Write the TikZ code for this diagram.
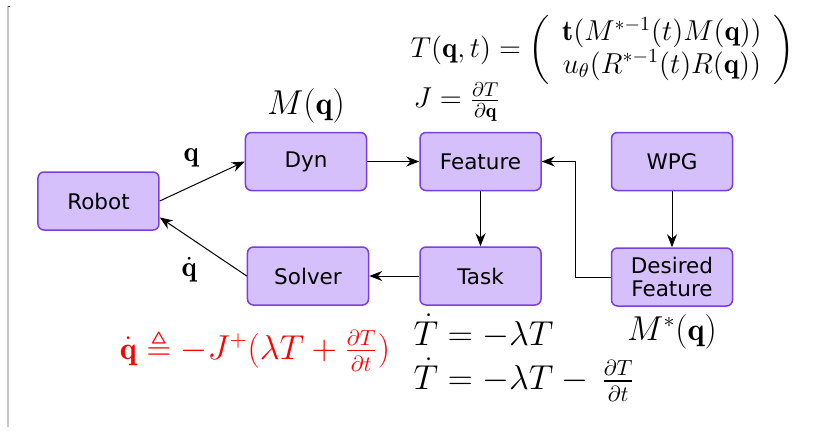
\documentclass[tikz,border=0pt]{standalone}
\usepackage{amsmath}
\usepackage{amssymb}
\usepackage{fontspec}
\setsansfont{DejaVu Sans}
\usepackage{tikz}
\usepackage{xcolor}
\usetikzlibrary{arrows.meta, positioning}
\definecolor{blkfill}{HTML}{D6C0FC}
\definecolor{blkedge}{HTML}{7A3FE0}
\definecolor{frameline}{HTML}{C8C8C8}

\begin{document}
\begin{tikzpicture}[
  blk/.style={draw=blkedge, fill=blkfill, line width=0.75pt, rounded corners=3pt,
              minimum width=60.5pt, minimum height=29pt, align=center,
              font=\sffamily\fontsize{10.75}{11.5}\selectfont},
  ar/.style={-{Stealth[length=6.5pt, width=5pt]}, line width=0.5pt},
  eq/.style={inner sep=0pt, font=\fontsize{16}{22}\selectfont},
  sm/.style={inner sep=0pt, font=\Large}
]
\node[blk] (robot) {Robot};
\node[blk, right=42.5pt of robot, yshift=19.75pt] (dyn) {Dyn};
\node[blk, right=43.5pt of robot, yshift=-37.5pt] (solver) {Solver};
\node[blk, right=26pt of dyn] (feat) {Feature};
\node[blk, below=27.5pt of feat] (task) {Task};
\node[blk, right=34.5pt of feat] (wpg) {WPG};
\node[blk, below=28pt of wpg] (des) {Desired\\Feature};

\draw[ar] (robot.east) -- (dyn.west)
  node[midway, above=7pt, xshift=-5.5pt, sm] (qlab) {$\mathbf{q}$};
\draw[ar] (solver.west) -- (robot.-15)
  node[midway, below=5pt, xshift=-7pt, sm] (qdlab) {$\dot{\mathbf{q}}$};
\draw[ar] (dyn) -- (feat);
\draw[ar] (feat) -- (task);
\draw[ar] (task.west) -- (solver.east);
\draw[ar] (wpg) -- (des);
\draw[ar] (des.west) -- ++(-17.5pt,0) |- (feat.east);

\node[eq, above=4pt of dyn] (mq) {$M(\mathbf{q})$};
\node[eq, below=3.5pt of des] (mstar) {$M^{*}(\mathbf{q})$};
\node[eq, text=red, below=12pt of solver, xshift=-26.5pt] (law)
  {$\dot{\mathbf{q}}\triangleq -J^{+}(\lambda T+\frac{\partial T}{\partial t})$};
\node[eq, align=left, below=4pt of task.south west, anchor=north west, xshift=-3pt] (tdot)
  {$\dot{T}=-\lambda T$\\$\dot{T}=-\lambda T-\,\frac{\partial T}{\partial t}$};
\node[sm, above=5pt of feat.north west, anchor=south west, xshift=-3pt] (jac)
  {$J=\frac{\partial T}{\partial \mathbf{q}}$};
\node[sm, above=-1.5pt of jac.north west, anchor=south west, xshift=-1.5pt] (tf)
  {\renewcommand{\arraystretch}{0.85}\setlength{\arraycolsep}{6pt}%
   $T(\mathbf{q},t)=\biggl(\begin{array}{c}
     \mathbf{t}(M^{*-1}(t)M(\mathbf{q}))\\
     u_{\theta}(R^{*-1}(t)R(\mathbf{q}))
   \end{array}\biggr)$};

% frame edge at the left
\draw[frameline, line width=0.6pt] (-45.25pt,97.5pt) -- (-45.25pt,-113pt);
\draw[black!70, line width=0.5pt] (-45.25pt,97.5pt) -- (-44.25pt,97.5pt);
\useasboundingbox (-49.25pt,-114.5pt) rectangle (361.25pt,100.5pt);
\end{tikzpicture}
\end{document}
